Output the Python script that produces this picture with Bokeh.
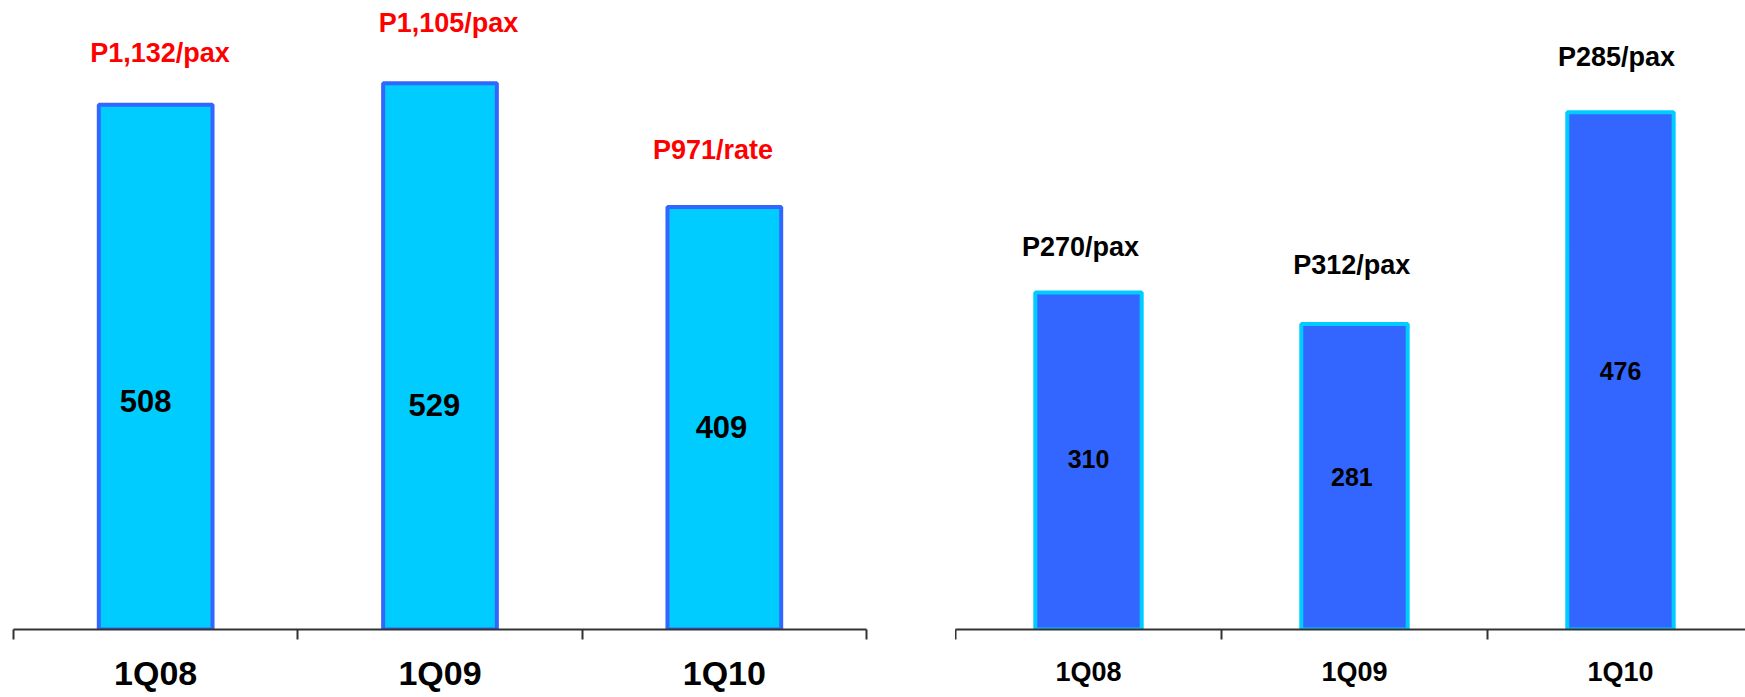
from bokeh.plotting import figure
from bokeh.models import Range1d, FixedTicker, ColumnDataSource
from bokeh.layouts import row
from bokeh.embed import file_html
from bokeh.resources import INLINE
from bokeh.core.properties import value

# ---- data ----
categories = ["1Q08", "1Q09", "1Q10"]
left_values = [508, 529, 409]
left_rates = ["P1,132/pax", "P1,105/pax", "P971/rate"]
right_values = [310, 281, 476]
right_rates = ["P270/pax", "P312/pax", "P285/pax"]

FONT = "Liberation Sans"


def panel(values, rates, fill, edge, rate_color, width, height, y_max, x_max,
          border_left, border_right, border_bottom,
          cat_size, rate_size, val_size, rate_nudge, val_pos, rate_dx, val_dx, standoff):
    p = figure(width=width, height=height, output_backend="svg", toolbar_location=None,
               x_range=Range1d(0, x_max), y_range=Range1d(0, y_max),
               min_border_left=border_left, min_border_right=border_right,
               min_border_top=0, min_border_bottom=border_bottom,
               outline_line_color=None)
    p.grid.visible = False
    p.yaxis.visible = False
    centers = [i + 0.5 for i in range(len(values))]
    src = ColumnDataSource(dict(
        x=centers, top=values, rate=rates,
        val=[str(v) for v in values],
        rx=[c + d for c, d in zip(centers, rate_dx)],
        ry=[v + n for v, n in zip(values, rate_nudge)],
        vx=[c + d for c, d in zip(centers, val_dx)],
        vy=[v * f for v, f in zip(values, val_pos)],
    ))
    p.vbar(x="x", top="top", bottom=0, width=0.4, source=src,
           fill_color=fill, line_color=edge, line_width=4)
    p.text(x="rx", y="ry", text="rate", source=src, text_color=rate_color,
           text_font=value(FONT), text_font_style="bold", text_font_size=rate_size,
           text_align="center", text_baseline="middle")
    p.text(x="vx", y="vy", text="val", source=src, text_color="black",
           text_font=value(FONT), text_font_style="bold", text_font_size=val_size,
           text_align="center", text_baseline="middle")
    ax = p.xaxis[0]
    ax.ticker = FixedTicker(ticks=centers, minor_ticks=[0, 1, 2, 3])
    ax.major_label_overrides = {c: cat for c, cat in zip(centers, categories)}
    ax.major_tick_line_color = None
    ax.major_tick_in = 0
    ax.major_tick_out = 0
    ax.minor_tick_in = 0
    ax.minor_tick_out = 10
    ax.minor_tick_line_color = "#333333"
    ax.minor_tick_line_width = 2
    ax.axis_line_color = "#333333"
    ax.axis_line_width = 2
    ax.major_label_text_font = FONT
    ax.major_label_text_font_style = "bold"
    ax.major_label_text_font_size = cat_size
    ax.major_label_text_color = "black"
    ax.major_label_standoff = standoff
    return p


left = panel(left_values, left_rates, "#00CCFF", "#3366FF", "#FF0000",
             width=955, height=697, y_max=609, x_max=3,
             border_left=13, border_right=89, border_bottom=66,
             cat_size="34px", rate_size="27px", val_size="31px",
             rate_nudge=[50, 58, 55], val_pos=[0.436, 0.41, 0.48],
             rate_dx=[0.015, 0.03, -0.04], val_dx=[-0.035, -0.02, -0.01],
             standoff=14)

right = panel(right_values, right_rates, "#3366FF", "#00CCFF", "black",
              width=790, height=697, y_max=578.7, x_max=2.97,
              border_left=0, border_right=0, border_bottom=68,
              cat_size="27px", rate_size="27px", val_size="25px",
              rate_nudge=[42, 54, 51], val_pos=[0.505, 0.5, 0.5],
              rate_dx=[-0.03, -0.01, -0.015], val_dx=[0.0, -0.01, 0.0],
              standoff=17)

layout = row(left, right)
open("out.html", "w").write(file_html(layout, INLINE))
